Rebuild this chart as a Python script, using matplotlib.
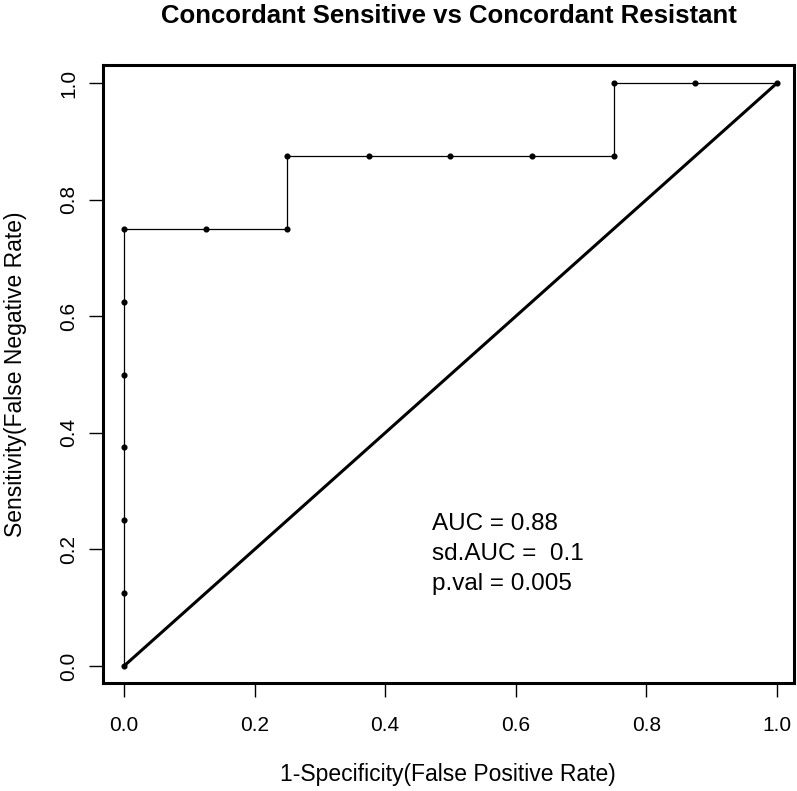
import matplotlib
matplotlib.use("Agg")
import matplotlib.pyplot as plt

plt.rcParams["font.family"] = ["Liberation Sans", "DejaVu Sans"]

# ROC curve points (1-specificity, sensitivity)
fpr = [0.0, 0.0, 0.0, 0.0, 0.0, 0.0, 0.0, 0.125, 0.25, 0.25, 0.375, 0.5, 0.625, 0.75, 0.75, 0.875, 1.0]
tpr = [0.0, 0.125, 0.25, 0.375, 0.5, 0.625, 0.75, 0.75, 0.75, 0.875, 0.875, 0.875, 0.875, 0.875, 1.0, 1.0, 1.0]
ticks = [0.0, 0.2, 0.4, 0.6, 0.8, 1.0]
tick_labels = ["0.0", "0.2", "0.4", "0.6", "0.8", "1.0"]
stats = ["AUC = 0.88", "sd.AUC =  0.1", "p.val = 0.005"]

W, H = 797, 791
fig = plt.figure(figsize=(W / 100, H / 100), dpi=100)
ax = fig.add_axes([103 / W, 1 - 683 / H, (794 - 103) / W, (683 - 65) / H])

ax.plot([0, 1], [0, 1], color="black", lw=2.2, zorder=2)
ax.plot(fpr, tpr, color="black", lw=0.9, marker="o", markersize=3.4, zorder=3)

ax.set_xlim(-0.032, 1.026)
ax.set_ylim(-0.029, 1.031)
ax.set_xticks(ticks)
ax.set_xticklabels(tick_labels)
ax.set_yticks(ticks)
ax.set_yticklabels(tick_labels, rotation=90, va="center")
ax.tick_params(axis="both", direction="out", length=10, width=1, labelsize=15, colors="black")
ax.tick_params(axis="x", pad=14)
ax.tick_params(axis="y", pad=8)
for s in ax.spines.values():
    s.set_linewidth(2.2)

for i, t in enumerate(stats):
    ax.text(0.472, 0.244 - i * 0.0515, t, fontsize=17.5, va="center", ha="left")

fig.text(449 / W, 1 - 16 / H, "Concordant Sensitive vs Concordant Resistant",
         fontsize=18.5, fontweight="bold", ha="center", va="center")
fig.text(448 / W, 1 - 775 / H, "1-Specificity(False Positive Rate)",
         fontsize=16.5, ha="center", va="center")
fig.text(16 / W, 1 - 374 / H, "Sensitivity(False Negative Rate)",
         fontsize=16.5, ha="center", va="center", rotation=90)

fig.savefig("out.png", dpi=100, facecolor="white")
